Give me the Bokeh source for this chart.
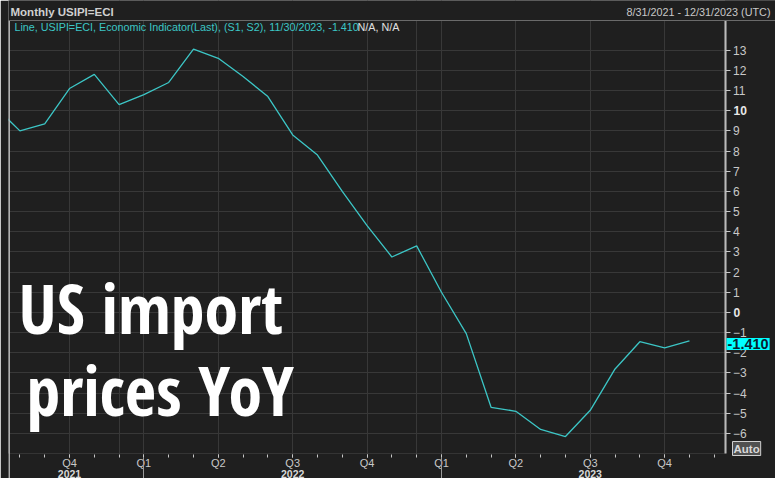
from bokeh.plotting import figure
from bokeh.models import (Range1d, LinearAxis, FixedTicker, Label, ColumnDataSource,
                          BoxAnnotation, Span)
from bokeh.embed import file_html
from bokeh.resources import INLINE

# ---- data (monthly, US import prices YoY %) ----
months = ["2021-07", "2021-08", "2021-09", "2021-10", "2021-11", "2021-12",
          "2022-01", "2022-02", "2022-03", "2022-04", "2022-05", "2022-06",
          "2022-07", "2022-08", "2022-09", "2022-10", "2022-11", "2022-12",
          "2023-01", "2023-02", "2023-03", "2023-04", "2023-05", "2023-06",
          "2023-07", "2023-08", "2023-09", "2023-10", "2023-11"]
values = [10.2, 9.0, 9.35, 11.1, 11.8, 10.3,
          10.8, 11.4, 13.05, 12.6, 11.7, 10.7,
          8.8, 7.8, 6.0, 4.3, 2.75, 3.3,
          1.0, -1.05, -4.7, -4.9, -5.8, -6.15,
          -4.85, -2.8, -1.45, -1.75, -1.41]
y_ticks = list(range(-6, 14))
bold_y = [0, 10]
last_label = "-1.410"
year_labels = ["2021", "2022", "2023"]
year_months = ["2021-10", "2022-07", "2023-07"]

# x index: Aug 2021 = 0
xs = [i - 1 for i in range(len(months))]
quarter_names = {1: "Q1", 4: "Q2", 7: "Q3", 10: "Q4"}
q_ticks, q_labels, grid_ticks, year_ticks = [], {}, [], []
for x, m in zip(xs, months):
    mo = int(m[5:])
    if mo in quarter_names:
        q_ticks.append(x)
        q_labels[x] = quarter_names[mo]
        grid_ticks.append(x)
    if mo == 1:
        year_ticks.append(x)
    if mo == 12:
        grid_ticks.append(x)
minor = xs + [xs[-1] + 1]

BG = "#1f1f1f"
GRID = "#383838"
TXT = "#c8c8c8"
CYAN = "#3cc6c6"

W, H = 775, 478
LEFT = 8
X0, X1 = -0.46, 30.47
Y0, Y1 = -8.231, 15.464


def xv(px):
    return X0 + (px - LEFT) * (X1 - X0) / (W - LEFT)


def yv(py):
    return Y1 - py * (Y1 - Y0) / H


AX_X = xv(724.5)   # right axis position
AX_Y = yv(453)     # bottom axis position
TOP = yv(20)       # top of chart box

p = figure(width=W, height=H, output_backend="svg", toolbar_location=None,
           x_range=Range1d(X0, X1), y_range=Range1d(Y0, Y1),
           x_axis_location=None, y_axis_location=None,
           min_border_left=LEFT, min_border_right=0,
           min_border_top=0, min_border_bottom=0,
           background_fill_color=BG, border_fill_color=BG,
           outline_line_color=None)

p.xgrid.ticker = FixedTicker(ticks=grid_ticks)
p.ygrid.ticker = FixedTicker(ticks=y_ticks)
for g in p.grid:
    g.grid_line_color = GRID
    g.grid_line_width = 1

# mask gridlines outside the chart box
for kw in (dict(bottom=TOP), dict(top=AX_Y), dict(left=AX_X)):
    p.add_layout(BoxAnnotation(fill_color=BG, fill_alpha=1, line_color=None,
                               level="underlay", **kw))

# right axis (fixed location inside canvas)
ra = LinearAxis(ticker=FixedTicker(ticks=y_ticks), fixed_location=AX_X,
                bounds=(AX_Y, TOP),
                major_label_overrides={t: "" for t in bold_y},
                axis_line_color=TXT, axis_line_width=2,
                major_tick_line_color=TXT, major_tick_out=5, major_tick_in=0,
                minor_tick_line_color=None,
                major_label_text_color=TXT, major_label_text_font="Liberation Sans",
                major_label_text_font_size="12px", major_label_standoff=3)
p.add_layout(ra, "right")

# bottom axis: quarters
ba = LinearAxis(ticker=FixedTicker(ticks=q_ticks, minor_ticks=minor),
                fixed_location=AX_Y, bounds=(X0, AX_X),
                major_label_overrides=q_labels,
                axis_line_color=None,
                major_tick_line_color=TXT, major_tick_out=4, major_tick_in=-1,
                minor_tick_line_color=TXT, minor_tick_out=4, minor_tick_in=-1,
                major_label_text_color=TXT, major_label_text_font="Liberation Sans",
                major_label_text_font_size="11px", major_label_standoff=-1)
p.add_layout(ba, "below")

# bottom axis: year boundaries (long ticks, no labels)
ya = LinearAxis(ticker=FixedTicker(ticks=year_ticks, minor_ticks=[]),
                fixed_location=AX_Y, axis_line_color=None,
                major_label_overrides={t: "" for t in year_ticks},
                major_tick_line_color="#9a9a9a", major_tick_out=26, major_tick_in=-4,
                minor_tick_line_color=None)
p.add_layout(ya, "below")

src = ColumnDataSource(dict(x=xs, y=values))
p.line("x", "y", source=src, line_color=CYAN, line_width=1.3)

# chart box border and masks
p.add_layout(BoxAnnotation(left=xv(8.5), right=AX_X, top=TOP, bottom=AX_Y,
                           fill_color=None, line_color="#6a6a6a", line_width=1))
p.add_layout(Span(location=xv(8.6), dimension="height", line_color=TXT, line_width=1.5))
p.add_layout(BoxAnnotation(bottom=TOP, fill_color=BG, fill_alpha=1, line_color=None))
p.add_layout(BoxAnnotation(top=AX_Y, right=xv(8.4), fill_color=BG, fill_alpha=1,
                           line_color=None))
p.add_layout(Span(location=TOP, dimension="width", line_color="#6a6a6a", line_width=1))

# bold 0 and 10 labels
for t in bold_y:
    p.add_layout(Label(x=xv(733), y=t, text=str(t), text_color="#e8e8e8",
                       text_font="Liberation Sans", text_font_size="12px",
                       text_font_style="bold", text_baseline="middle"))

# last value box
p.add_layout(Label(x=xv(726), y=values[-1], y_offset=-3, text=last_label,
                   text_color="#0a2030",
                   text_font="Liberation Sans", text_font_size="14.5px",
                   text_font_style="bold", text_baseline="middle",
                   background_fill_color="#00ffff", padding=1))

# Auto box
p.add_layout(Label(x=xv(732), y=yv(455), text="Auto", text_color="#d8d8d8",
                   text_font="Liberation Sans", text_font_size="11.5px",
                   text_font_style="bold", text_baseline="bottom",
                   background_fill_color="#505050", border_line_color="#d0d0d0",
                   padding=1))

# year labels
for yl, ym in zip(year_labels, year_months):
    p.add_layout(Label(x=xs[months.index(ym)], y=yv(473), text=yl, text_color="#d8d8d8",
                       text_font="Liberation Sans", text_font_size="10.5px",
                       text_font_style="bold", text_align="center",
                       text_baseline="middle"))

# header texts
p.add_layout(Label(x=xv(10), y=yv(11), text="Monthly USIPI=ECI", text_color="#d0d0d0",
                   text_font="Liberation Sans", text_font_size="11.5px",
                   text_font_style="bold", text_baseline="middle"))
p.add_layout(Label(x=xv(770), y=yv(11), text="8/31/2021 - 12/31/2023 (UTC)",
                   text_color=TXT, text_font="Liberation Sans", text_font_size="10.8px",
                   text_align="right", text_baseline="middle"))
p.add_layout(Label(x=xv(14), y=yv(26),
                   text="Line, USIPI=ECI, Economic Indicator(Last), (S1, S2), 11/30/2023, " + last_label,
                   text_color=CYAN, text_font="Liberation Sans", text_font_size="10.75px",
                   text_baseline="middle"))
p.add_layout(Label(x=xv(357), y=yv(26), text="N/A, N/A", text_color="#e0e0e0",
                   text_font="Liberation Sans", text_font_size="10.75px",
                   text_baseline="middle"))

# big overlay text
BIG = "'Open Sans Condensed', 'Roboto Condensed', Roboto"
for txt, px, py in (("US import", 18, 307), ("prices YoY", 26, 389)):
    p.add_layout(Label(x=xv(px), y=yv(py), text=txt, text_color="white",
                       text_font=BIG, text_font_size="68px",
                       text_font_style="bold", text_baseline="middle"))

open("out.html", "w").write(file_html(p, INLINE))
